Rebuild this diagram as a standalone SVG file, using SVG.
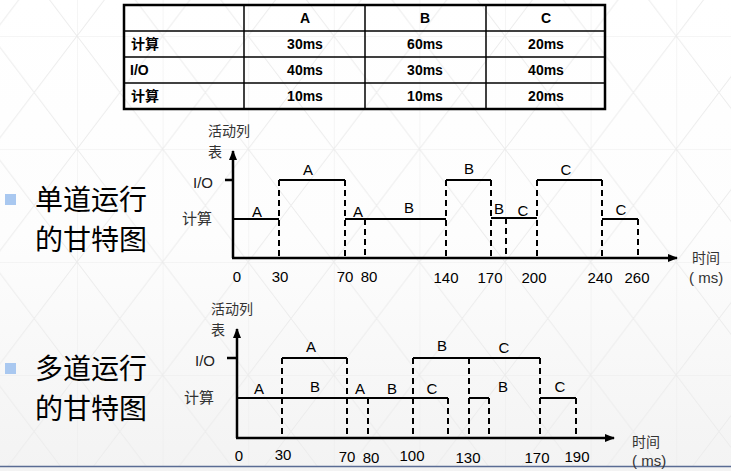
<svg xmlns="http://www.w3.org/2000/svg" width="731" height="471" viewBox="0 0 731 471">
<defs>
<linearGradient id="bg" x1="0" y1="0" x2="0" y2="1">
<stop offset="0" stop-color="#ffffff"/>
<stop offset="0.5" stop-color="#fdfdfd"/>
<stop offset="1" stop-color="#f3f3f3"/>
</linearGradient>
<pattern id="grid" patternUnits="userSpaceOnUse" x="77" y="36" width="85.6" height="113">
<path d="M0 0V113M0 0H85.6M0 0L85.6 113M85.6 0L0 113" fill="none" stroke="#ececec" stroke-width="1"/>
</pattern>
<marker id="arr" viewBox="0 0 10 8" refX="9" refY="4" markerWidth="10" markerHeight="8" markerUnits="userSpaceOnUse" orient="auto">
<path d="M0 0L10 4L0 8Z" fill="#000"/>
</marker>
<style>
.tb{font-family:"Liberation Sans","Noto Sans CJK SC",sans-serif;font-weight:bold;font-size:14px;fill:#000}
.tbc{text-anchor:middle}
.lbl{font-family:"Liberation Sans","Noto Sans CJK SC",sans-serif;font-size:15px;fill:#000;text-anchor:middle}
.num{font-family:"Liberation Sans",sans-serif;font-size:15px;fill:#000;text-anchor:middle}
.axl{font-family:"Liberation Sans","Noto Sans CJK SC",sans-serif;font-size:15px;fill:#222}
.cn{font-family:"Noto Sans CJK SC",sans-serif;font-size:15px;fill:#333}
.cs{font-family:"Noto Sans CJK SC",sans-serif;font-size:14px;fill:#333}
.ms{font-family:"Liberation Sans",sans-serif;font-size:15px;fill:#333}
.big{font-family:"Noto Sans CJK SC",sans-serif;font-size:28px;fill:#000}
.ax{fill:none;stroke:#000;stroke-width:2.5}
.sol{fill:none;stroke:#000;stroke-width:2}
.dash{fill:none;stroke:#000;stroke-width:2;stroke-dasharray:6 4}
.tline{stroke:#000;stroke-width:1.5}
</style>
</defs>
<rect x="0" y="0" width="731" height="471" fill="url(#bg)"/>
<rect x="0" y="0" width="731" height="466" fill="url(#grid)"/>
<line x1="0" y1="466.5" x2="731" y2="466.5" stroke="#5a6c94" stroke-width="1.5"/>

<g id="table">
<line class="tline" x1="244" y1="5" x2="244" y2="109"/>
<line class="tline" x1="365" y1="5" x2="365" y2="109"/>
<line class="tline" x1="486" y1="5" x2="486" y2="109"/>
<line class="tline" x1="124" y1="31" x2="605" y2="31"/>
<line class="tline" x1="124" y1="57" x2="605" y2="57"/>
<line class="tline" x1="124" y1="83" x2="605" y2="83"/>
<rect x="124" y="5" width="481" height="104" fill="none" stroke="#000" stroke-width="2.5"/>
<text class="tb tbc" x="305" y="23">A</text>
<text class="tb tbc" x="425" y="23">B</text>
<text class="tb tbc" x="546" y="23">C</text>
<text class="tb" x="131" y="49">计算</text>
<text class="tb tbc" x="305" y="49">30ms</text>
<text class="tb tbc" x="425" y="49">60ms</text>
<text class="tb tbc" x="546" y="49">20ms</text>
<text class="tb" x="130" y="75">I/O</text>
<text class="tb tbc" x="305" y="75">40ms</text>
<text class="tb tbc" x="425" y="75">30ms</text>
<text class="tb tbc" x="546" y="75">40ms</text>
<text class="tb" x="131" y="101">计算</text>
<text class="tb tbc" x="305" y="101">10ms</text>
<text class="tb tbc" x="425" y="101">10ms</text>
<text class="tb tbc" x="546" y="101">20ms</text>
</g>

<g id="label-single">
<rect x="5" y="194" width="11" height="11" fill="#a9c8f0"/>
<text class="big" x="35" y="210">单道运行</text>
<text class="big" x="35" y="250">的甘特图</text>
</g>
<g id="label-multi">
<rect x="5" y="363" width="11" height="11" fill="#a9c8f0"/>
<text class="big" x="35" y="379">多道运行</text>
<text class="big" x="35" y="419">的甘特图</text>
</g>

<g id="chart-single">
<text class="cs" x="208" y="136">活动列</text>
<text class="cs" x="208" y="157">表</text>
<text class="axl" x="193" y="188">I/O</text>
<text class="cn" x="182" y="224">计算</text>
<text class="cs" x="692" y="263">时间</text>
<text class="ms" x="689" y="283">( ms)</text>
<g id="connectors-single">
<path class="ax" d="M233 258V151" marker-end="url(#arr)"/>
<path class="ax" d="M232 258H677" marker-end="url(#arr)"/>
<path class="ax" d="M225 180H233"/>
<path class="sol" d="M233 219H279"/>
<path class="sol" d="M279 180H345"/>
<path class="sol" d="M345 219H446"/>
<path class="sol" d="M446 180H491"/>
<path class="sol" d="M491 218H537"/>
<path class="sol" d="M537 180H602"/>
<path class="sol" d="M602 219H638"/>
<path class="dash" d="M279 180V258"/>
<path class="dash" d="M345 180V258"/>
<path class="dash" d="M365 219V258"/>
<path class="dash" d="M446 180V258"/>
<path class="dash" d="M491 180V258"/>
<path class="dash" d="M506 218V258"/>
<path class="dash" d="M537 180V258"/>
<path class="dash" d="M602 180V258"/>
<path class="dash" d="M638 219V258"/>
</g>
<text class="lbl" x="257" y="217">A</text>
<text class="lbl" x="308" y="175">A</text>
<text class="lbl" x="358" y="217">A</text>
<text class="lbl" x="409" y="213">B</text>
<text class="lbl" x="469" y="174">B</text>
<text class="lbl" x="499" y="214">B</text>
<text class="lbl" x="523" y="216">C</text>
<text class="lbl" x="566" y="175">C</text>
<text class="lbl" x="621" y="215">C</text>
<text class="num" x="237" y="282">0</text>
<text class="num" x="280" y="282">30</text>
<text class="num" x="345" y="282">70</text>
<text class="num" x="369" y="282">80</text>
<text class="num" x="446" y="283">140</text>
<text class="num" x="490" y="283">170</text>
<text class="num" x="534" y="283">200</text>
<text class="num" x="600" y="283">240</text>
<text class="num" x="637" y="283">260</text>
</g>

<g id="chart-multi">
<text class="cs" x="211" y="314">活动列</text>
<text class="cs" x="211" y="335">表</text>
<text class="axl" x="195" y="366">I/O</text>
<text class="cn" x="184" y="403">计算</text>
<text class="cs" x="632" y="447">时间</text>
<text class="ms" x="632" y="466">( ms)</text>
<g id="connectors-multi">
<path class="ax" d="M237 438V329" marker-end="url(#arr)"/>
<path class="ax" d="M236 438H614" marker-end="url(#arr)"/>
<path class="ax" d="M227 358H237"/>
<path class="sol" d="M237 398H448"/>
<path class="sol" d="M282 358H347"/>
<path class="sol" d="M413 358H540"/>
<path class="sol" d="M469 398H489"/>
<path class="sol" d="M540 398H576"/>
<path class="dash" d="M282 358V438"/>
<path class="dash" d="M347 358V438"/>
<path class="dash" d="M368 398V438"/>
<path class="dash" d="M413 358V438"/>
<path class="dash" d="M448 398V438"/>
<path class="dash" d="M469 358V438"/>
<path class="dash" d="M489 398V438"/>
<path class="dash" d="M540 358V438"/>
<path class="dash" d="M576 398V438"/>
</g>
<text class="lbl" x="259" y="394">A</text>
<text class="lbl" x="311" y="352">A</text>
<text class="lbl" x="315" y="392">B</text>
<text class="lbl" x="360" y="394">A</text>
<text class="lbl" x="392" y="394">B</text>
<text class="lbl" x="432" y="394">C</text>
<text class="lbl" x="442" y="351">B</text>
<text class="lbl" x="504" y="353">C</text>
<text class="lbl" x="503" y="392">B</text>
<text class="lbl" x="560" y="392">C</text>
<text class="num" x="239" y="461">0</text>
<text class="num" x="283" y="460">30</text>
<text class="num" x="347" y="462">70</text>
<text class="num" x="371" y="463">80</text>
<text class="num" x="412" y="461">100</text>
<text class="num" x="468" y="463">130</text>
<text class="num" x="537" y="463">170</text>
<text class="num" x="577" y="462">190</text>
</g>
</svg>
